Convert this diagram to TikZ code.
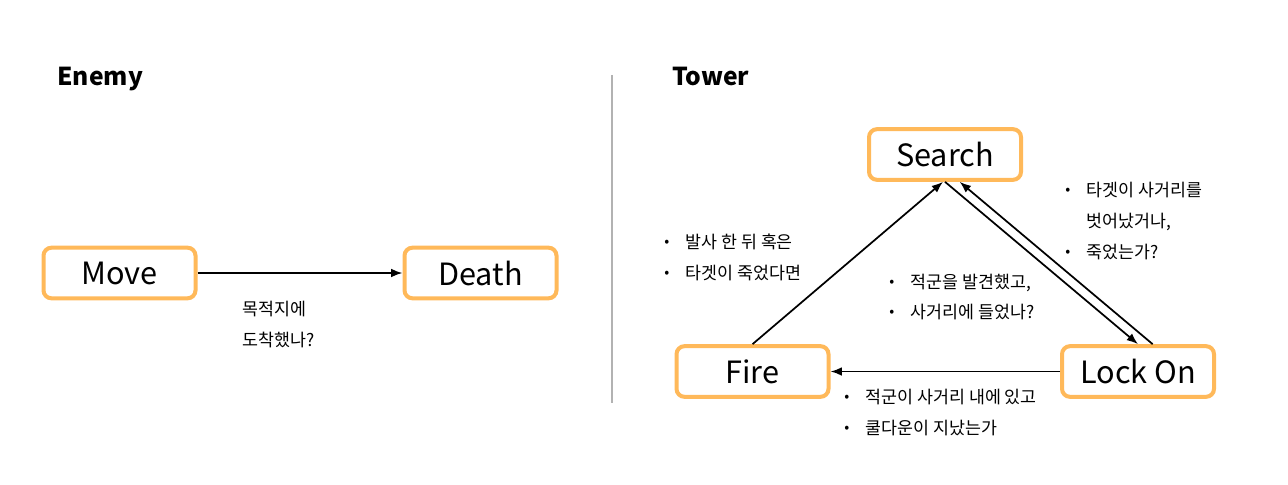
\documentclass[tikz,border=0pt]{standalone}
\usepackage{fontspec}
\setmainfont{Noto Sans CJK KR}
\usepackage{tikz}
\usetikzlibrary{arrows.meta}
\definecolor{boxorange}{RGB}{255, 185, 90}
\definecolor{divgray}{RGB}{178, 178, 178}
\newcommand{\itm}{\makebox[16pt][l]{\raisebox{1.5pt}{\fontsize{11}{11}\selectfont •}}}
\newcommand{\noitm}{\makebox[16pt][l]{}}

\begin{document}
\begin{tikzpicture}[x=0.75pt, y=-0.75pt,
		state/.style={draw=boxorange, line width=3pt, rounded corners=6pt, fill=white,
			minimum width=114pt, minimum height=38pt, inner sep=0pt,
			font=\fontsize{23}{27}\selectfont},
		cond/.style={anchor=west, inner sep=0pt, align=left,
			font=\fontsize{13}{23}\selectfont},
		heading/.style={anchor=base west, inner sep=0pt, font=\fontsize{18.5}{22}\selectfont\bfseries},
		lw/.style={line width=1.3pt, -{Latex[length=8.5pt,width=6.5pt]}}]
	
	\useasboundingbox (0,0) rectangle (1288,485);
	
	%% ── headings and divider ──
	\node[heading] (enemy) at (57,85) {Enemy};
	\node[heading] (tower) at (672,85) {Tower};
	\draw[divgray, line width=1.5pt] (612,75) -- (612,403);
	
	%% ── Enemy states ──
	\node[state] (move) at (119.5,273) {Move};
	\node[state] (death) at (480.5,273) {Death};
	
	\draw[lw] (move) -- (death);
	\node[cond] (arrive) at (242,324.5) {목적지에\\도착했나?};
	
	%% ── Tower states ──
	\node[state] (search) at (945,154.5) {Search};
	\node[state] (fire) at (752.5,371.5) {Fire};
	\node[state] (lockon) at (1138,371.5) {Lock On};
	
	%% ── connectors ──
	\draw[lw] (fire.north) -- ([xshift=-1.5pt]search.south);
	\draw[lw] (search.south) -- (lockon.north);
	\draw[lw] ([xshift=11pt]lockon.north) -- ([xshift=11pt]search.south);
	\draw[lw] (lockon) -- (fire);
	
	%% ── conditions ──
	\node[cond] (fired) at (664,257.5) {\itm 발사 한 뒤 혹은\\\itm 타겟이 죽었다면};
	\node[cond] (lost) at (1065,221) {\itm 타겟이 사거리를\\\noitm 벗어났거나,\\\itm 죽었는가?};
	\node[cond] (found) at (889,297) {\itm 적군을 발견했고,\\\itm 사거리에 들었나?};
	\node[cond] (ready) at (844,412.5) {\itm 적군이 사거리 내에 있고\\\itm 쿨다운이 지났는가};
	
\end{tikzpicture}
\end{document}
